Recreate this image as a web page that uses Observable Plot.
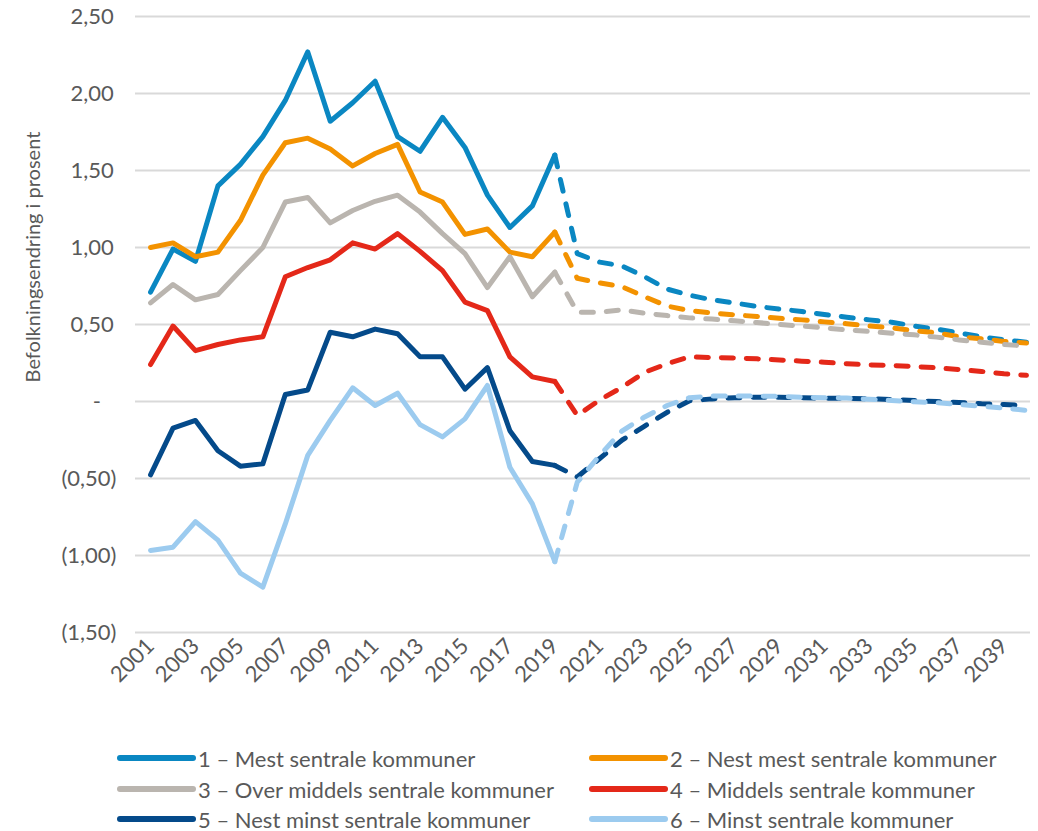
<!DOCTYPE html>
<html>
<head>
<meta charset="utf-8">
<script src="https://cdn.jsdelivr.net/npm/d3@7"></script>
<script src="https://cdn.jsdelivr.net/npm/@observablehq/plot@0.6"></script>
<style>
  html, body { margin: 0; padding: 0; background: #fff; }
  #wrap { position: relative; width: 1038px; height: 831px; font-family: Lato, "Open Sans", sans-serif; color: #595959; }
  #ylabel { position: absolute; left: 32px; top: 257px; transform: translate(-50%, -50%) rotate(-90deg); white-space: nowrap; font-size: 20px; }
  .leg { position: absolute; display: flex; align-items: center; font-size: 22px; white-space: nowrap; }
  .leg svg { margin-right: 2px; }
</style>
</head>
<body>
<div id="wrap">
  <div id="chart"></div>
  <div id="ylabel">Befolkningsendring i prosent</div>
</div>
<script>
const years = d3.range(2001, 2041);
const seriesNames = [
  "1 – Mest sentrale kommuner",
  "2 – Nest mest sentrale kommuner",
  "3 – Over middels sentrale kommuner",
  "4 – Middels sentrale kommuner",
  "5 – Nest minst sentrale kommuner",
  "6 – Minst sentrale kommuner"
];
const seriesColors = ["#0a87c2", "#f39200", "#bab5af", "#e42819", "#044a8a", "#9ccbef"];
const lastHistoricYear = 2019;

const s1 = [0.71,0.99,0.91,1.40,1.54,1.72,1.955,2.27,1.82,1.94,2.08,1.72,1.625,1.845,1.65,1.34,1.13,1.27,1.60,
  0.96,0.905,0.88,0.81,0.73,0.69,0.66,0.64,0.617,0.60,0.585,0.565,0.547,0.53,0.515,0.49,0.47,0.445,0.42,0.40,0.385];
const s2 = [1.00,1.03,0.94,0.97,1.175,1.47,1.68,1.71,1.64,1.53,1.61,1.67,1.36,1.295,1.085,1.12,0.97,0.94,1.10,
  0.80,0.77,0.745,0.68,0.62,0.59,0.575,0.563,0.552,0.54,0.53,0.517,0.505,0.49,0.478,0.46,0.446,0.42,0.407,0.39,0.38];
const s3 = [0.64,0.76,0.66,0.695,0.85,1.00,1.295,1.325,1.16,1.24,1.30,1.34,1.23,1.09,0.96,0.74,0.94,0.68,0.84,
  0.58,0.58,0.595,0.573,0.558,0.543,0.535,0.524,0.513,0.50,0.49,0.478,0.465,0.455,0.443,0.433,0.418,0.40,0.385,0.37,0.36];
const s4 = [0.24,0.49,0.33,0.37,0.40,0.42,0.81,0.87,0.92,1.03,0.99,1.09,0.975,0.85,0.645,0.59,0.29,0.16,0.13,
  -0.09,0.01,0.093,0.19,0.245,0.29,0.285,0.283,0.277,0.27,0.262,0.255,0.245,0.238,0.234,0.227,0.219,0.208,0.195,0.18,0.17];
const s5 = [-0.476,-0.173,-0.123,-0.32,-0.42,-0.405,0.045,0.075,0.45,0.42,0.47,0.44,0.29,0.29,0.08,0.22,-0.19,-0.39,-0.415,
  -0.49,-0.37,-0.25,-0.16,-0.07,0.005,0.017,0.024,0.028,0.028,0.024,0.022,0.02,0.017,0.013,0.006,0.0,-0.006,-0.015,-0.02,-0.026];
const s6 = [-0.967,-0.946,-0.78,-0.90,-1.115,-1.205,-0.795,-0.35,-0.123,0.089,-0.026,0.054,-0.15,-0.23,-0.113,0.104,-0.427,-0.665,-1.04,
  -0.524,-0.35,-0.19,-0.10,-0.026,0.025,0.035,0.035,0.035,0.033,0.028,0.024,0.022,0.015,0.006,-0.002,-0.008,-0.02,-0.03,-0.043,-0.058];

const yTicks = [-1.5, -1.0, -0.5, 0, 0.5, 1.0, 1.5, 2.0, 2.5];
const xTicks = [2001,2003,2005,2007,2009,2011,2013,2015,2017,2019,2021,2023,2025,2027,2029,2031,2033,2035,2037,2039];

const allSeries = [s1, s2, s3, s4, s5, s6];
const hist = [], proj = [];
allSeries.forEach((vals, i) => {
  years.forEach((yr, j) => {
    const row = {year: yr, value: vals[j], series: seriesNames[i]};
    if (yr <= lastHistoricYear) hist.push(row);
    if (yr >= lastHistoricYear) proj.push(row);
  });
});

function fmtY(v) {
  if (Math.abs(v) < 1e-9) return "-\u2007\u2009";
  const s = Math.abs(v).toFixed(2).replace(".", ",");
  return v < 0 ? "(" + s + ")" : s + "\u2009";
}

const chart = Plot.plot({
  width: 1038,
  height: 720,
  marginTop: 16,
  marginBottom: 88,
  marginLeft: 135,
  marginRight: 8,
  style: {fontFamily: "Lato, 'Open Sans', sans-serif", fontSize: "22px", color: "#595959", background: "#fff"},
  x: {type: "linear", domain: [2000.33, 2040.18]},
  y: {domain: [-1.5, 2.5]},
  color: {domain: seriesNames, range: seriesColors},
  marks: [
    Plot.gridY(yTicks, {stroke: "#d9d9d9", strokeOpacity: 1, strokeWidth: 2}),
    Plot.axisY(yTicks, {tickSize: 0, tickPadding: 19, tickFormat: fmtY, label: null}),
    Plot.axisX(xTicks, {tickSize: 0, tickPadding: 10, tickRotate: -45, tickFormat: d => String(d), label: null}),
    Plot.line(hist, {x: "year", y: "value", z: "series", stroke: "series", strokeWidth: 5, strokeLinejoin: "round", strokeLinecap: "round"}),
    Plot.line(proj, {x: "year", y: "value", z: "series", stroke: "series", strokeWidth: 5, strokeLinejoin: "round", strokeLinecap: "round", strokeDasharray: "12,13"})
  ]
});
document.getElementById("chart").appendChild(chart);

// legend
const wrap = document.getElementById("wrap");
const legPos = [
  {x: 120, y: 758}, {x: 592, y: 758},
  {x: 120, y: 789}, {x: 592, y: 789},
  {x: 120, y: 819}, {x: 592, y: 819}
];
seriesNames.forEach((name, i) => {
  const d = document.createElement("div");
  d.className = "leg";
  d.style.left = (legPos[i].x - 3) + "px";
  d.style.top = (legPos[i].y - 14) + "px";
  d.style.height = "28px";
  d.innerHTML = `<svg width="79" height="10"><line x1="3" y1="5" x2="76" y2="5" stroke="${seriesColors[i]}" stroke-width="6" stroke-linecap="round"/></svg><span>${name}</span>`;
  wrap.appendChild(d);
});
</script>
</body>
</html>
